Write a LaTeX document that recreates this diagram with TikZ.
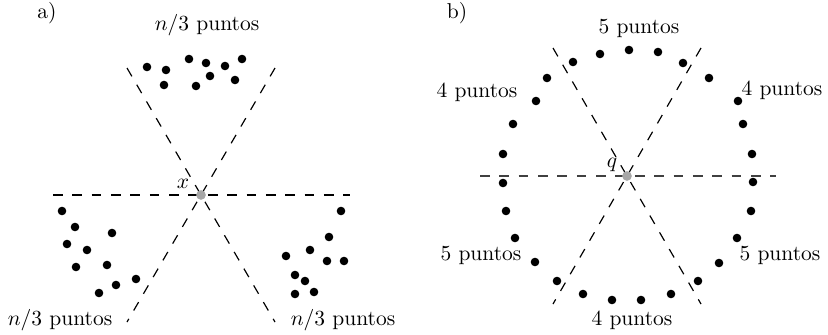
\documentclass[tikz,border=0pt]{standalone}
\usepackage{amsmath}
\usepackage{tikz}
\usetikzlibrary{positioning}

\begin{document}
\begin{tikzpicture}[x=0.465pt, y=-0.465pt,
  every node/.style={font=\normalsize},
  pt/.style={circle, fill=black, inner sep=0pt, minimum size=4pt},
  ctr/.style={circle, fill=black!35, inner sep=0pt, minimum size=4.5pt},
  dashline/.style={dash pattern=on 4.5pt off 4.5pt, line width=0.55pt}]
  \useasboundingbox (0,0) rectangle (828,334);

  % (a) three groups of n/3 points
  \node (lbla) at (47,13) {a)};
  \coordinate (x) at (201,195);
  \coordinate (h1) at (53,195);  \coordinate (h2) at (350,195);
  \coordinate (u1) at (127,68);  \coordinate (u2) at (275,322);
  \coordinate (v1) at (275,68);  \coordinate (v2) at (127,322);
  \draw[dashline] (h1) -- (h2);
  \draw[dashline] (u1) -- (u2);
  \draw[dashline] (v1) -- (v2);
  \node[ctr] (xc) at (x) {};
  \node (xl) at (183,184) {$x$};

  \foreach \p [count=\i] in {(147,67),(166,70),(189,59),(206,63),(225,66),
      (242,59),(164,85),(196,86),(210,76),(235,80)}
    \node[pt] (top\i) at \p {};
  \foreach \p [count=\i] in {(62,211),(75,227),(112,233),(67,244),(87,250),
      (76,267),(107,265),(136,279),(116,285),(99,293)}
    \node[pt] (bl\i) at \p {};
  \foreach \p [count=\i] in {(341,211),(329,237),(310,250),(286,256),(327,261),
      (344,261),(295,275),(305,281),(295,294),(314,292)}
    \node[pt] (br\i) at \p {};

  \node (ntop) at (207,25) {$n/3$ puntos};
  \node (nbl) at (60,320) {$n/3$ puntos};
  \node (nbr) at (343,320) {$n/3$ puntos};

  % (b) points on a circle around q
  \node (lblb) at (457,13) {b)};
  \coordinate (q) at (627,176);
  \coordinate (k1) at (480,176); \coordinate (k2) at (776,176);
  \coordinate (s1) at (553,48);  \coordinate (s2) at (701,304);
  \coordinate (t1) at (701,48);  \coordinate (t2) at (553,304);
  \draw[dashline, black!75] (k1) -- (k2);
  \draw[dashline] (s1) -- (s2);
  \draw[dashline] (t1) -- (t2);
  \node[ctr] (qc) at (q) {};
  \node (ql) at (612,165) {$q$};

  \foreach \p [count=\i] in {(629,50),(658,52),(600,54),(683,63),(573,62),
      (709,78),(547,78),(738,101),(536,101),(743,124),(513,124),(752,154),
      (503,154),(503,183),(753,182),(506,211),(751,211),(515,238),(737,238),
      (535,262),(719,263),(557,281),(698,281),(583,294),(671,294),(612,300),
      (641,300)}
    \node[pt] (c\i) at \p {};

  \node (ftop) at (639,28) {5 puntos};
  \node (fl) at (477,92) {4 puntos};
  \node (fr) at (782,90) {4 puntos};
  \node (fbl) at (481,255) {5 puntos};
  \node (fbr) at (780,255) {5 puntos};
  \node (fbot) at (632,320) {4 puntos};
\end{tikzpicture}
\end{document}
